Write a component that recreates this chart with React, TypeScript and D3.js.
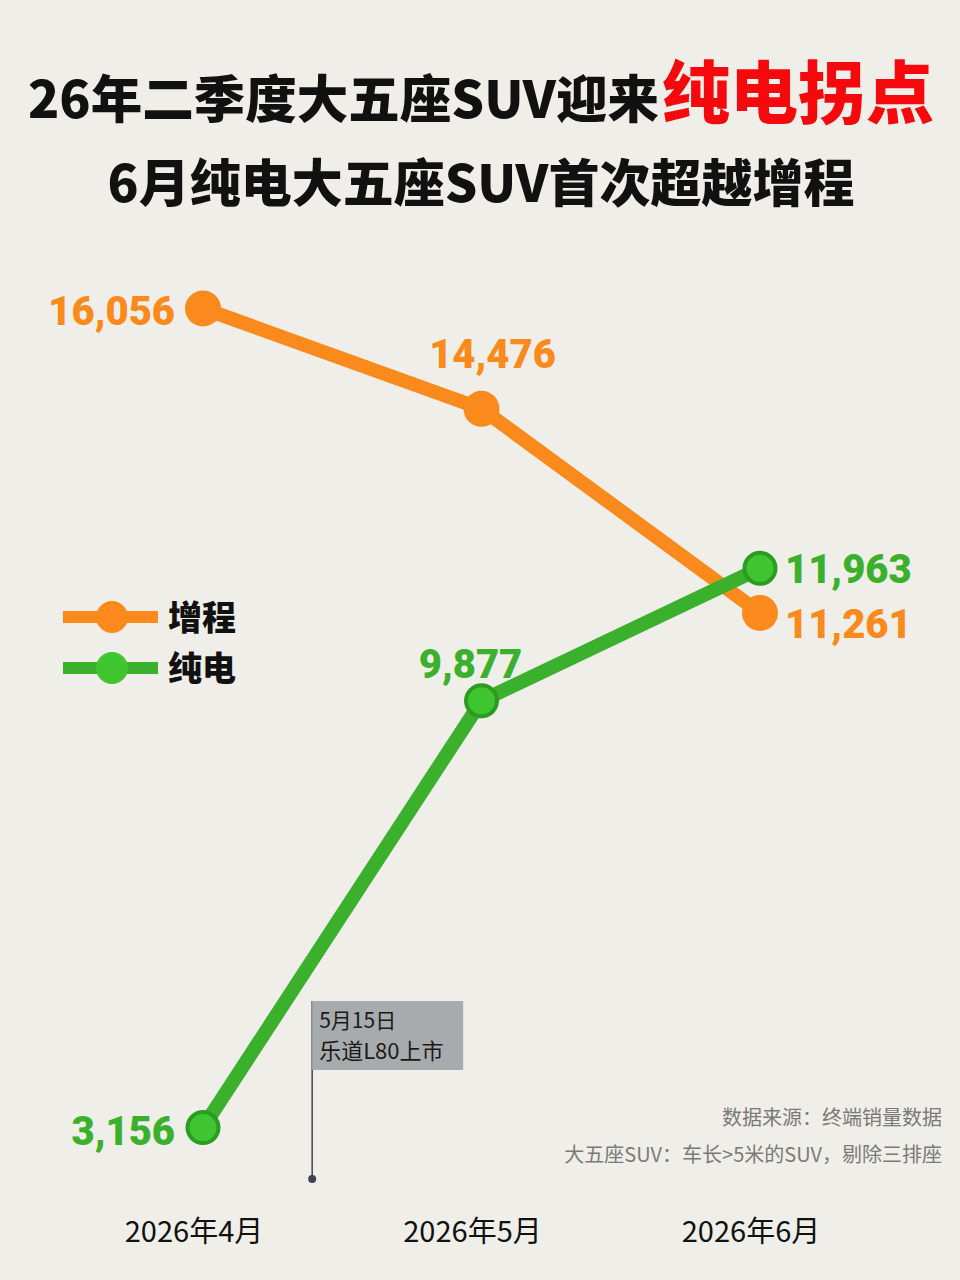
import React from "react";
import * as d3 from "d3";

const months = ["2026年4月", "2026年5月", "2026年6月"];
const erevValues = [16056, 14476, 11261];
const bevValues = [3156, 9877, 11963];
const seriesNames = ["增程", "纯电"];
const titleBlack = "26年二季度大五座SUV迎来";
const titleRed = "纯电拐点";
const subtitle = "6月纯电大五座SUV首次超越增程";
const annotationLines = ["5月15日", "乐道L80上市"];
const footnotes = ["数据来源：终端销量数据", "大五座SUV：车长>5米的SUV，剔除三排座"];

const W = 960;
const H = 1280;
const ORANGE = "#f98a1b";
const GREEN = "#3bb02d";
const GREEN_FILL = "#3ec530";
const GREEN_RING = "#2b9c22";
const CJK = "'Noto Sans CJK SC', 'Noto Sans', sans-serif";
const NUM = "Roboto, 'Noto Sans', 'Liberation Sans', sans-serif";

// label offsets [dx, dy, anchor] relative to point
const erevLabelPos: [number, number, string][] = [
  [-28, 17, "end"],
  [11, -41, "middle"],
  [25, 25, "start"],
];
const bevLabelPos: [number, number, string][] = [
  [-28, 17, "end"],
  [-11, -23, "middle"],
  [25, 15, "start"],
];

export default function App() {
  const x = d3.scalePoint<string>().domain(months).range([203, 760]);
  const y = d3.scaleLinear().domain([0, 18000]).range([1328, 185]);
  const fmt = d3.format(",");
  const line = d3
    .line<number>()
    .x((_, i) => x(months[i]) as number)
    .y((d) => y(d));

  const annX = (x(months[0]) as number) + 0.392 * x.step();

  return (
    <svg
      width={W}
      height={H}
      viewBox={`0 0 ${W} ${H}`}
      style={{ position: "absolute", left: 0, top: 0, display: "block" }}
    >
      <rect x={0} y={0} width={W} height={H} fill="#f0eee9" />

      {/* Titles */}
      <text x={28} y={118} fontFamily={CJK} fontWeight={900} fill="#111">
        <tspan fontSize={51.5}>{titleBlack}</tspan>
        <tspan fontSize={68} fill="#f5090c" dx={3}>
          {titleRed}
        </tspan>
      </text>
      <text
        x={481}
        y={202}
        textAnchor="middle"
        fontFamily={CJK}
        fontWeight={900}
        fontSize={51}
        fill="#111"
      >
        {subtitle}
      </text>

      {/* Legend */}
      {[ORANGE, GREEN].map((c, i) => (
        <g key={i} transform={`translate(0, ${617 + i * 51})`}>
          <line x1={63} x2={158} y1={0} y2={0} stroke={c} strokeWidth={12} />
          <circle cx={112} cy={0} r={16} fill={i === 0 ? ORANGE : GREEN_FILL} />
          <text
            x={168}
            y={13}
            fontFamily={CJK}
            fontWeight={900}
            fontSize={34}
            fill="#111"
          >
            {seriesNames[i]}
          </text>
        </g>
      ))}

      {/* Annotation */}
      <line
        x1={annX}
        x2={annX}
        y1={1001}
        y2={1179}
        stroke="#3b4553"
        strokeWidth={1.5}
      />
      <circle cx={annX} cy={1179} r={4} fill="#3b4553" />
      <rect x={annX} y={1001} width={151} height={69} fill="#a8abad" />
      {annotationLines.map((t, i) => (
        <text
          key={i}
          x={annX + 7}
          y={1028 + i * 31}
          fontFamily={CJK}
          fontSize={i === 0 ? 21 : 22}
          fill="#1a1a1a"
        >
          {t}
        </text>
      ))}

      {/* Lines */}
      <path
        d={line(erevValues) || ""}
        fill="none"
        stroke={ORANGE}
        strokeWidth={14}
        strokeLinejoin="round"
      />
      <path
        d={line(bevValues) || ""}
        fill="none"
        stroke={GREEN}
        strokeWidth={14}
        strokeLinejoin="round"
      />
      {erevValues.map((v, i) => (
        <circle
          key={"o" + i}
          cx={x(months[i]) as number}
          cy={y(v)}
          r={18}
          fill={ORANGE}
        />
      ))}
      {bevValues.map((v, i) => (
        <circle
          key={"g" + i}
          cx={x(months[i]) as number}
          cy={y(v)}
          r={15.5}
          fill={GREEN_FILL}
          stroke={GREEN_RING}
          strokeWidth={4}
        />
      ))}

      {/* Value labels */}
      {erevValues.map((v, i) => (
        <text
          key={"ol" + i}
          x={(x(months[i]) as number) + erevLabelPos[i][0]}
          y={y(v) + erevLabelPos[i][1]}
          textAnchor={erevLabelPos[i][2] as any}
          fontFamily={NUM}
          fontWeight={900}
          fontSize={40}
          fill={ORANGE}
        >
          {fmt(v)}
        </text>
      ))}
      {bevValues.map((v, i) => (
        <text
          key={"gl" + i}
          x={(x(months[i]) as number) + bevLabelPos[i][0]}
          y={y(v) + bevLabelPos[i][1]}
          textAnchor={bevLabelPos[i][2] as any}
          fontFamily={NUM}
          fontWeight={900}
          fontSize={40}
          fill={GREEN}
        >
          {fmt(v)}
        </text>
      ))}

      {/* Footnotes */}
      {footnotes.map((t, i) => (
        <text
          key={"f" + i}
          x={942}
          y={1125 + i * 37}
          textAnchor="end"
          fontFamily={CJK}
          fontSize={20}
          fill="#7a7a78"
        >
          {t}
        </text>
      ))}

      {/* X axis labels */}
      {months.map((m) => (
        <text
          key={m}
          x={(x(m) as number) - 9}
          y={1242}
          textAnchor="middle"
          fontFamily={"'Liberation Sans Narrow', 'Noto Sans CJK SC', sans-serif"}
          fontSize={29}
          fill="#111"
        >
          {m}
        </text>
      ))}
    </svg>
  );
}
